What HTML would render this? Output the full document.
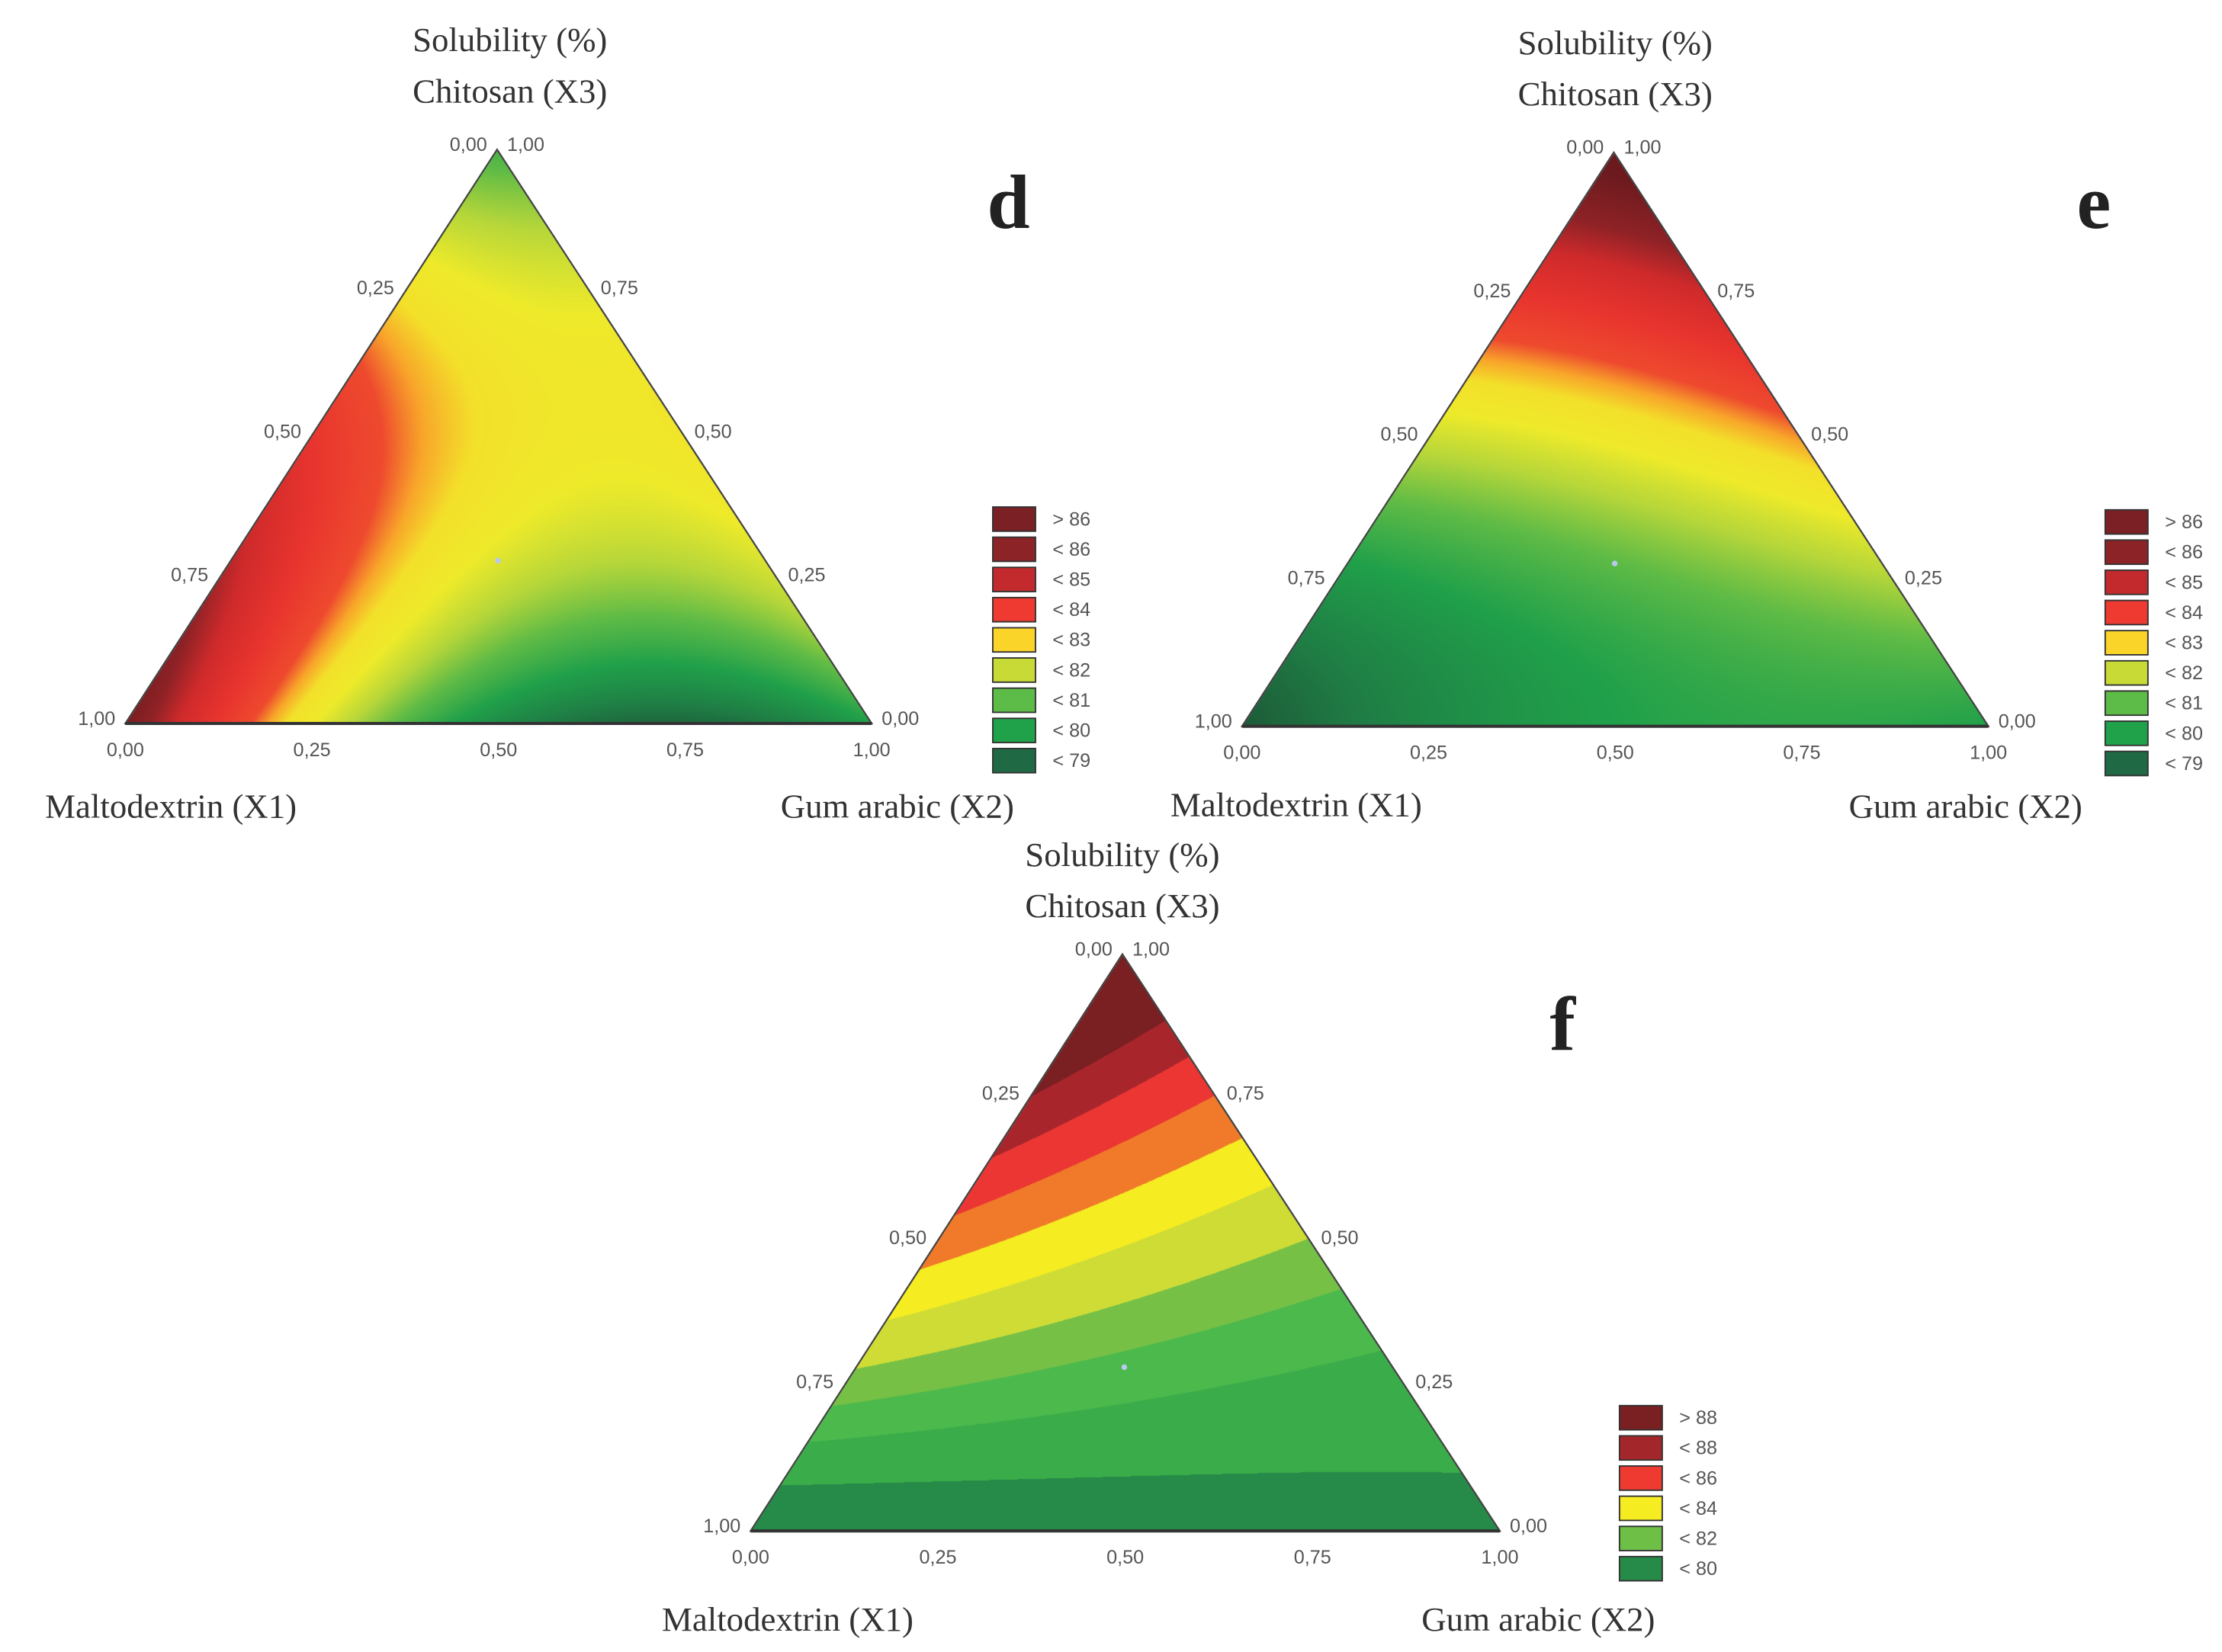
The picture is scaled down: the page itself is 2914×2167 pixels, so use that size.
<!DOCTYPE html>
<html><head><meta charset="utf-8">
<style>
html,body{margin:0;padding:0;background:#fff;}
#wrap{position:relative;width:2914px;height:2167px;overflow:hidden;}
canvas{position:absolute;left:0;top:0;}
svg{position:absolute;left:0;top:0;}
</style></head>
<body>
<div id="wrap">
<canvas id="cv" width="2914" height="2167"></canvas>
<svg id="sv" width="2914" height="2167" viewBox="0 0 1560 1160" preserveAspectRatio="none"></svg>
</div>
<script>
// ---- data: Scheffe model coefficients [b1,b2,b3,b12,b13,b23,b123] per panel ----
const coefD = [87, 80, 80.5, -16, 3, 9, 5];
const coefE = [78.5, 80, 88, 3, -6, -3, -12];
const coefF = [79.3, 80.2, 90, 0, 3.4, -8.7, -5];
// smooth colour stops (value, colour) for d/e
const stopVals = [78.5, 79.2, 80.0, 80.8, 81.5, 82.2, 82.8, 83.2, 83.6, 84.5, 85.5, 86.3, 87.5];
const stopCols = ['#1d5a38','#1f7f45','#20a04a','#5fbb46','#b5d63a','#eeea2a','#f3e02a','#f8a52a','#ee4a2e','#e8342e','#cf2a2b','#8e2226','#6c1a1e'];
// banded levels for f
const levelsF = [80.4, 81.4, 82.2, 83, 84, 85, 86, 87, 88];
const bandColsF = ['#268a48','#3aad4a','#4cb94c','#76c046','#cfdc36','#f5ec22','#f07a2a','#ec3633','#a8262b','#7a1f22'];
// legend entries
const legLabD = ['> 86','< 86','< 85','< 84','< 83','< 82','< 81','< 80','< 79'];
const legColD = ['#7b2025','#8c2326','#c22a2e','#ee3a30','#fbd42a','#c8da36','#5dbb47','#1fa24a','#1f6a45'];
const legLabF = ['> 88','< 88','< 86','< 84','< 82','< 80'];
const legColF = ['#7a1f22','#a3262a','#ee3a30','#f5ec22','#6dbf45','#268a48'];
const tickLabs = ['0,00','0,25','0,50','0,75','1,00'];

const S = 2914/1560, SY = 2167/1160;
const panels = [
 {id:'d', L:[88,508], R:[612,508], T:[349,105], coef:coefD, mode:'smooth', title:[358,28], letter:[708,160], leg:[697,356], legLab:legLabD, legCol:legColD, lab1:[120,566], lab2:[630,566]},
 {id:'e', L:[872,510], R:[1396,510], T:[1133,107], coef:coefE, mode:'smooth', title:[1134,30], letter:[1470,160], leg:[1478,358], legLab:legLabD, legCol:legColD, lab1:[910,565], lab2:[1380,566]},
 {id:'f', L:[527,1075], R:[1053,1075], T:[788,670], coef:coefF, mode:'band', title:[788,600], letter:[1097,737], leg:[1137,987], legLab:legLabF, legCol:legColF, lab1:[553,1137], lab2:[1080,1137]}
];
function model(c,x1,x2,x3){return c[0]*x1+c[1]*x2+c[2]*x3+c[3]*x1*x2+c[4]*x1*x3+c[5]*x2*x3+c[6]*x1*x2*x3;}
function hex(h){return [parseInt(h.substr(1,2),16),parseInt(h.substr(3,2),16),parseInt(h.substr(5,2),16)];}
const stopRGB = stopCols.map(hex), bandRGB = bandColsF.map(hex);
function smoothCol(v){
  if(v<=stopVals[0])return stopRGB[0];
  for(let i=1;i<stopVals.length;i++){ if(v<=stopVals[i]){const t=(v-stopVals[i-1])/(stopVals[i]-stopVals[i-1]);const a=stopRGB[i-1],b=stopRGB[i];return [a[0]+(b[0]-a[0])*t,a[1]+(b[1]-a[1])*t,a[2]+(b[2]-a[2])*t];}}
  return stopRGB[stopRGB.length-1];
}
function bandCol(v){let i=0;while(i<levelsF.length&&v>=levelsF[i])i++;return bandRGB[i];}

const cv=document.getElementById('cv'),ctx=cv.getContext('2d');
const img=ctx.createImageData(2914,2167),D=img.data;
for(let i=0;i<D.length;i+=4){D[i]=D[i+1]=D[i+2]=255;D[i+3]=255;}
panels.forEach(p=>{
  const [ax,ay]=[p.L[0]*S,p.L[1]*SY],[bx,by]=[p.R[0]*S,p.R[1]*SY],[cx,cy]=[p.T[0]*S,p.T[1]*SY];
  const det=(by-cy)*(ax-cx)+(cx-bx)*(ay-cy);
  for(let y=Math.floor(cy);y<=Math.ceil(ay);y++)for(let x=Math.floor(ax);x<=Math.ceil(bx);x++){
    const l1=((by-cy)*(x-cx)+(cx-bx)*(y-cy))/det, l2=((cy-ay)*(x-cx)+(ax-cx)*(y-cy))/det, l3=1-l1-l2;
    if(l1<0||l2<0||l3<0)continue;
    const v=model(p.coef,l1,l2,l3);
    const c=p.mode==='smooth'?smoothCol(v):bandCol(v);
    const k=(y*2914+x)*4;D[k]=c[0];D[k+1]=c[1];D[k+2]=c[2];
  }
});
ctx.putImageData(img,0,0);

const NS='http://www.w3.org/2000/svg', sv=document.getElementById('sv');
function el(tag,attrs,txt,parent){const e=document.createElementNS(NS,tag);for(const k in attrs)e.setAttribute(k,attrs[k]);if(txt!=null)e.textContent=txt;(parent||sv).appendChild(e);return e;}
const tf='font-family:"Liberation Sans",sans-serif;font-size:13.5px;fill:#555;';
const sf='font-family:"Liberation Serif",serif;font-size:24px;fill:#333;';
panels.forEach(p=>{
  const g=el('g',{});
  
  
  const tri=el('polygon',{points:[p.L,p.R,p.T].map(q=>q.join(',')).join(' '),fill:'none',stroke:'#444','stroke-width':1.2},null,g);
  
  
  const bl=el('line',{x1:p.L[0],y1:p.L[1],x2:p.R[0],y2:p.R[1],stroke:'#333','stroke-width':2.2},null,g);
  
  
  const t1=el('text',{x:p.title[0],y:p.title[1]+8,'text-anchor':'middle',style:sf},'Solubility (%)',g);
  
  
  const t2=el('text',{x:p.title[0],y:p.title[1]+44,'text-anchor':'middle',style:sf},'Chitosan (X3)',g);
  
  
  const a1=el('text',{x:p.lab1[0],y:p.lab1[1]+8,'text-anchor':'middle',style:sf},'Maltodextrin (X1)',g);
  
  
  const a2=el('text',{x:p.lab2[0],y:p.lab2[1]+8,'text-anchor':'middle',style:sf},'Gum arabic (X2)',g);
  
  
  const lt=el('text',{x:p.letter[0],y:p.letter[1],'text-anchor':'middle',style:'font-family:"Liberation Serif",serif;font-weight:bold;font-size:54px;fill:#222;'},p.id,g);
  
  
  for(let i=0;i<5;i++){
    const t=i/4;
    const bx=p.L[0]+(p.R[0]-p.L[0])*t;
    const tb=el('text',{x:bx,y:p.L[1]+23,'text-anchor':'middle',style:tf},tickLabs[i],g);
    
    
    const lx=p.L[0]+(p.T[0]-p.L[0])*t, ly=p.L[1]+(p.T[1]-p.L[1])*t;
    const tl=el('text',{x:lx-7,y:ly+1,'text-anchor':'end',style:tf},tickLabs[4-i],g);
    
    
    const rx=p.R[0]+(p.T[0]-p.R[0])*t, ry=p.R[1]+(p.T[1]-p.R[1])*t;
    const tr=el('text',{x:rx+7,y:ry+1,'text-anchor':'start',style:tf},tickLabs[i],g);
    
    
  }
  const cd=el('circle',{cx:(p.L[0]+p.R[0]+p.T[0])/3,cy:(p.L[1]+p.R[1]+p.T[1])/3+20,r:2,fill:'#b8c8ee'},null,g);
  
  
  p.legLab.forEach((lab,i)=>{
    const y=p.leg[1]+i*21.2;
    const r=el('rect',{x:p.leg[0],y:y,width:30,height:17,fill:p.legCol[i],stroke:'#333','stroke-width':1},null,g);
    
    
    const tx=el('text',{x:p.leg[0]+42,y:y+13,style:tf},lab,g);
    
    
  });
});
</script>
</body></html>
